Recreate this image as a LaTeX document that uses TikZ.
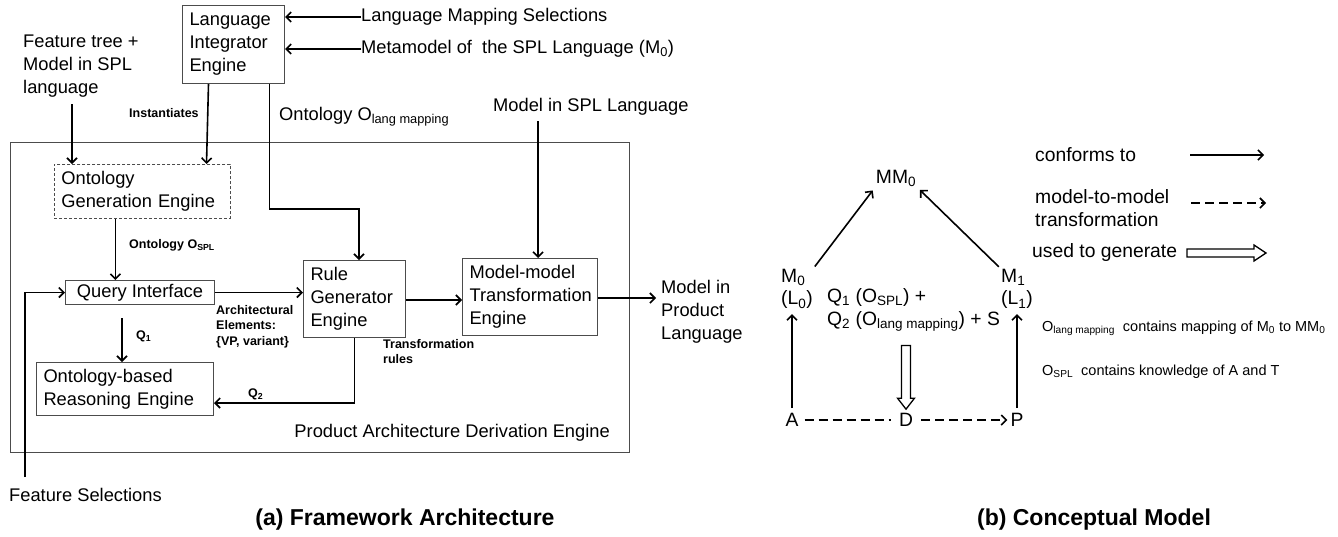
\documentclass[tikz,border=0pt]{standalone}
\usepackage{fontspec}
\setmainfont{Liberation Sans}
\usetikzlibrary{arrows.meta,calc}
\newcommand{\fmain}{\fontsize{18.3}{23}\selectfont}
\newcommand{\fright}{\fontsize{19.3}{22.5}\selectfont}
\newcommand{\flab}{\fontsize{12.5}{15.5}\selectfont\bfseries}
\newcommand{\fsm}{\fontsize{14.5}{18}\selectfont}
\newcommand{\fttl}{\fontsize{23}{27}\selectfont\bfseries}
\begin{document}
\begin{tikzpicture}[x=1pt,y=-1pt,
  txt/.style={font=\fmain, inner sep=0pt},
  rtxt/.style={font=\fright, inner sep=0pt},
  lab/.style={font=\flab, inner sep=0pt},
  sml/.style={font=\fsm, inner sep=0pt},
  ttl/.style={font=\fttl, inner sep=0pt},
  box/.style={draw=black!70, line width=1pt, inner xsep=7pt, inner ysep=0pt, align=left, anchor=north west, font=\fmain},
  arr/.style={line width=1.6pt, -{Straight Barb[length=5pt,width=10pt]}},
  dsh/.style={line width=1.6pt, dash pattern=on 9pt off 5pt},
  hollowline/.style={line width=1.3pt, line join=miter, fill=white}
]
\useasboundingbox[fill=white] (0,0) rectangle (1338,536);

% ---------------- (a) Framework Architecture ----------------
\node[box, text width=88, minimum height=78] (lie) at (182,5) {Language\\Integrator\\Engine};
\node[txt, anchor=west] (lms) at (361,17) {Language Mapping Selections};
\node[txt, anchor=west] (meta) at (361,49) {Metamodel of \ the SPL Language (M\textsubscript{0})};
\draw[arr] (lms.west) -- (lie.east |- lms.west);
\draw[arr] (meta.west) -- (lie.east |- meta.west);

\node[txt, anchor=west, align=left] (ft) at (23,66) {Feature tree +\\Model in SPL\\language};

\node[draw=black!70, line width=1pt, minimum width=619, minimum height=310, anchor=north west, inner sep=0pt] (pade) at (10,142) {};
\node[txt, anchor=east] (padel) at (610,433) {Product Architecture Derivation Engine};

\node[box, dashed, dash pattern=on 3pt off 2pt, line width=0.8pt, text width=162, minimum height=54] (oge) at (54,164) {Ontology\\Generation Engine};

\coordinate (fttail) at (72,104);
\draw[arr] (fttail) -- (fttail |- oge.north);

\draw[arr] ([xshift=-25]lie.south) -- ([xshift=-27]lie.south |- oge.north);
\node[lab, anchor=west] (inst) at (129,113) {Instantiates};

\node[txt, anchor=west] (olang) at (279,117) {Ontology O\textsubscript{lang mapping}};

\node[box, text width=88, minimum height=77] (rule) at (303,260) {Rule\\Generator\\Engine};
\node[box, text width=121, minimum height=77] (mmt) at (462,258) {Model-model\\Transformation\\Engine};

\coordinate (bend) at (359,209);
\draw[arr] ([xshift=36]lie.south) |- (bend) -- (bend |- rule.north);

\node[txt, anchor=west] (msl) at (493,107) {Model in SPL Language};
\coordinate (msltail) at (538,121);
\draw[arr] (msltail) -- (msltail |- mmt.north);

\node[box, minimum width=149, minimum height=24, align=center] (qi) at (65,280) {Query Interface};

\draw[arr] ([xshift=-27]oge.south) -- ([xshift=-27]oge.south |- qi.north);
\node[lab, anchor=west] (osplab) at (129,245) {Ontology O\textsubscript{SPL}};

\node[txt, anchor=west] (fs) at (9,495) {Feature Selections};
\coordinate (fstail) at (25,477);
\draw[arr] (fstail) |- (qi.west);

\draw[arr] (qi.east) -- (qi.east -| rule.west);
\node[lab, anchor=north west, align=left] (arch) at (216,305) {Architectural\\Elements:\\\{VP, variant\}};
\draw[arr] ([yshift=-1]rule.east) -- ([yshift=-1]rule.east -| mmt.west);

\node[txt, anchor=west, align=left] (mip) at (661,312) {Model in\\Product\\Language};
\draw[arr, shorten >=5pt] ([yshift=-1]mmt.east) -- ([yshift=-1]mmt.east -| mip.west);

\node[box, text width=163, minimum height=53] (ore) at (36,362) {Ontology-based\\Reasoning Engine};
\draw[arr, shorten <=13pt] ([xshift=-18]qi.south) -- ([xshift=-18]qi.south |- ore.north);
\node[lab, anchor=west] (q1) at (136,336) {Q\textsubscript{1}};

\coordinate (q2c) at (354,403);
\draw[arr] (rule.south) |- (ore.east |- q2c);
\node[lab, anchor=west] (q2) at (248,394) {Q\textsubscript{2}};
\node[lab, anchor=north west, align=left] (trl) at (383,339) {Transformation\\rules};

\node[ttl] (ta) at (405,520) {(a) Framework Architecture};

% ---------------- (b) Conceptual Model ----------------
\node[rtxt] (MM) at (896,178) {MM\textsubscript{0}};
\node[rtxt, anchor=west, align=left] (M0) at (781,289) {M\textsubscript{0}\\(L\textsubscript{0})};
\node[rtxt, anchor=west, align=left] (M1) at (1001,289) {M\textsubscript{1}\\(L\textsubscript{1})};
\draw[arr, shorten <=3pt, shorten >=5pt] (M0.north east) -- (MM.south west);
\draw[arr, shorten <=3pt, shorten >=5pt] (M1.north west) -- (MM.south east);

\node[rtxt, anchor=west, align=left] (Q) at (827,310) {Q\textsubscript{1} (O\textsubscript{SPL}) +\\Q\textsubscript{2} (O\textsubscript{lang mapping}) + S};

\node[rtxt] (A) at (792,420) {A};
\node[rtxt] (D) at (906,420) {D};
\node[rtxt] (P) at (1017,420) {P};

% hollow "used to generate" arrow, from the Q text down to D
\draw[hollowline] let \p1=(Q.south -| D), \p2=(D.north) in
  (\x1-4.5pt,\y1-14pt) -- (\x1-4.5pt,\y2+15pt) -- (\x1-8.5pt,\y2+15pt) -- (\x1,\y2+4pt)
  -- (\x1+8.5pt,\y2+15pt) -- (\x1+4.5pt,\y2+15pt) -- (\x1+4.5pt,\y1-14pt) -- cycle;

\draw[arr, shorten <=5pt, shorten >=5pt] (A.north) -- (A |- M0.south);
\draw[arr, shorten <=5pt, shorten >=5pt] (P.north) -- (P |- M1.south);
\draw[dsh, shorten <=6pt, shorten >=8pt] (A.east) -- (D.west);
\draw[dsh, arr, shorten <=8pt, shorten >=3pt] (D.east) -- (P.west);

% legend
\node[rtxt, anchor=west] (l1) at (1035,155) {conforms to};
\coordinate (l1a) at (1190,155);
\coordinate (l1b) at (1264,155);
\draw[arr] (l1a) -- (l1b);
\node[rtxt, anchor=west, align=left] (l2) at (1035,208) {model-to-model\\transformation};
\coordinate (l2a) at (1191,203);
\coordinate (l2b) at (1266,203);
\draw[dsh, arr] (l2a) -- (l2b);
\node[rtxt, anchor=west] (l3) at (1032,253) {used to generate};
\coordinate (l3a) at (1187,253);
\coordinate (l3b) at (1266,253);
\draw[hollowline] let \p1=(l3a), \p2=(l3b) in
  (\x1,\y1+4pt) -- (\x2-12pt,\y1+4pt) -- (\x2-12pt,\y1+8pt) -- (\x2,\y1)
  -- (\x2-12pt,\y1-8pt) -- (\x2-12pt,\y1-4pt) -- (\x1,\y1-4pt) -- cycle;

\node[sml, anchor=west] (n1) at (1042,328) {O\textsubscript{lang mapping}\ \ contains mapping of M\textsubscript{0} to MM\textsubscript{0}};
\node[sml, anchor=west] (n2) at (1042,372) {O\textsubscript{SPL}\ \ contains knowledge of A and T};

\node[ttl] (tb) at (1094,520) {(b) Conceptual Model};
\end{tikzpicture}
\end{document}
